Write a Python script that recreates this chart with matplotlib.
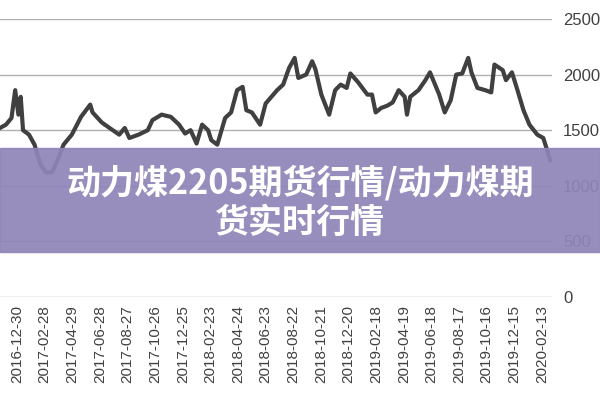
import matplotlib.pyplot as plt
import matplotlib.patches as mpatches

# days relative to 2016-12-30, and price
days = [-37, -24, -12, -4, 3, 8, 13, 26, 38, 51, 63, 76, 88, 101, 119, 139, 159, 164, 184, 201,
        222, 234, 244, 264, 284, 294, 314, 334, 352, 365, 377, 390, 402, 415, 422, 435, 452, 465,
        478, 490, 498, 510, 528, 540, 565, 578, 591, 603, 611, 628, 641, 648, 661, 678, 691, 703,
        716, 724, 741, 761, 771, 779, 791, 804, 816, 829, 842, 847, 854, 872, 887, 897, 917, 929,
        942, 954, 967, 980, 987, 1000, 1017, 1030, 1037, 1055, 1062, 1075, 1087, 1100, 1113, 1130,
        1143, 1150, 1158]
price = [1520, 1550, 1610, 1860, 1640, 1800, 1500, 1460, 1370, 1190, 1120, 1120, 1230, 1370, 1460,
         1620, 1730, 1660, 1570, 1520, 1460, 1520, 1430, 1460, 1500, 1590, 1640, 1620, 1550, 1470,
         1500, 1380, 1550, 1500, 1410, 1370, 1610, 1660, 1860, 1890, 1680, 1660, 1550, 1740, 1860,
         1910, 2060, 2150, 1970, 2000, 2120, 2050, 1820, 1640, 1860, 1910, 1880, 2010, 1930, 1820,
         1820, 1660, 1700, 1720, 1750, 1860, 1800, 1640, 1800, 1860, 1950, 2020, 1820, 1660, 1770,
         2000, 2010, 2150, 2020, 1880, 1860, 1840, 2090, 2040, 1950, 2020, 1860, 1680, 1550, 1460,
         1430, 1340, 1230]
tick_labels = ['2016-12-30', '2017-02-28', '2017-04-29', '2017-06-28', '2017-08-27', '2017-10-26',
               '2017-12-25', '2018-02-23', '2018-04-24', '2018-06-23', '2018-08-22', '2018-10-21',
               '2018-12-20', '2019-02-18', '2019-04-19', '2019-06-18', '2019-08-17', '2019-10-16',
               '2019-12-15', '2020-02-13']
tick_days = [60 * i for i in range(len(tick_labels))]
title_lines = ['动力煤2205期货行情/动力煤期', '货实时行情']

fig = plt.figure(figsize=(6, 4), dpi=100)
ax = fig.add_axes([0.0, 0.2575, 0.92, 0.695])
ax.plot(days, price, color='#404040', linewidth=3)
ax.set_xlim(-37, 1162)
ax.set_ylim(0, 2500)
ax.set_yticks([0, 500, 1000, 1500, 2000, 2500])
ax.yaxis.tick_right()
ax.tick_params(axis='y', length=0, labelsize=12, labelcolor='#404040', pad=8)
for lbl in ax.get_yticklabels():
    lbl.set_family('Liberation Sans')
ax.set_xticks(tick_days)
ax.set_xticklabels(tick_labels, rotation=90, fontsize=11, color='#404040', family='Liberation Sans')
ax.tick_params(axis='x', length=0, pad=6)
ax.grid(axis='y', color='#b0b0b0', linewidth=1)
for s in ax.spines.values():
    s.set_visible(False)

# banner overlay
fig.patches.append(mpatches.Rectangle((0, 1 - 252 / 400), 1, 104 / 400, transform=fig.transFigure,
                                      color='#8f85b8', alpha=0.92, zorder=5))
fig.text(0.5, 1 - 183 / 400, title_lines[0], ha='center', va='center', color='white', fontsize=24.5,
         fontweight='bold', family=['Noto Sans CJK SC', 'DejaVu Sans'], zorder=6)
fig.text(0.5, 1 - 222 / 400, title_lines[1], ha='center', va='center', color='white', fontsize=24.5,
         fontweight='bold', family=['Noto Sans CJK SC', 'DejaVu Sans'], zorder=6)

fig.savefig('out.png', dpi=100)
